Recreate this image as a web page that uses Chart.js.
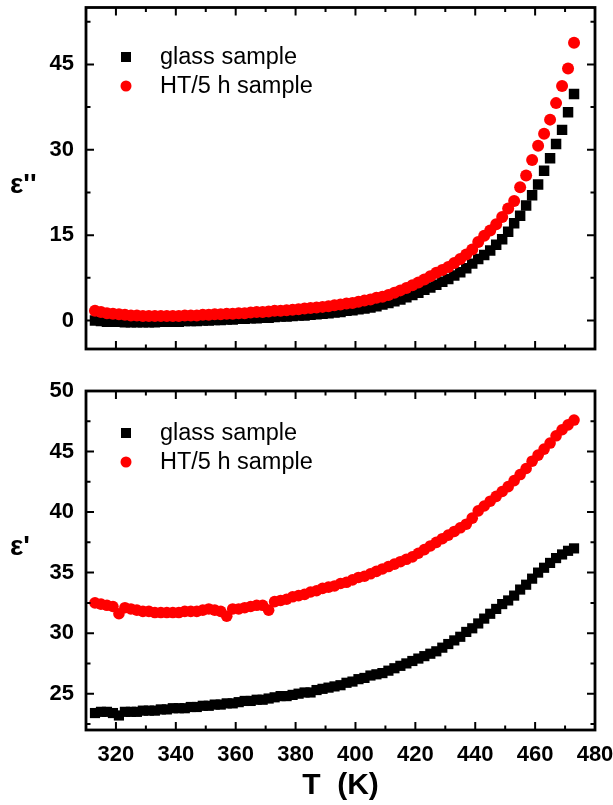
<!DOCTYPE html>
<html>
<head>
<meta charset="utf-8">
<script src="https://cdn.jsdelivr.net/npm/chart.js@4.4.1/dist/chart.umd.min.js"></script>
<style>
  html, body { margin: 0; padding: 0; background: #fff; }
  #wrap { position: relative; width: 613px; height: 805px; }
  .pane { position: absolute; left: 0; width: 613px; }
  #lossPane { top: 0; height: 360px; }
  #permPane { top: 360px; height: 445px; }
</style>
</head>
<body>
<div id="wrap">
  <div class="pane" id="lossPane"><canvas id="lossChart" width="613" height="360"></canvas></div>
  <div class="pane" id="permPane"><canvas id="permChart" width="613" height="445"></canvas></div>
</div>
<script>
// temperature points (K)
var tempK = [313, 315, 317, 319, 321, 323, 325, 327, 329, 331, 333, 335, 337, 339, 341, 343,
  345, 347, 349, 351, 353, 355, 357, 359, 361, 363, 365, 367, 369, 371, 373, 375,
  377, 379, 381, 383, 385, 387, 389, 391, 393, 395, 397, 399, 401, 403, 405, 407,
  409, 411, 413, 415, 417, 419, 421, 423, 425, 427, 429, 431, 433, 435, 437, 439,
  441, 443, 445, 447, 449, 451, 453, 455, 457, 459, 461, 463, 465, 467, 469, 471, 473];

// dielectric loss eps''
var lossGlass = [0.0, -0.1, -0.2, -0.2, -0.2, -0.3, -0.3, -0.3, -0.3, -0.3, -0.3, -0.2, -0.2, -0.2, -0.2, -0.1,
  -0.1, -0.1, 0.0, 0.0, 0.1, 0.1, 0.2, 0.2, 0.3, 0.3, 0.4, 0.4, 0.5, 0.5, 0.6, 0.7,
  0.7, 0.8, 0.9, 0.9, 1.0, 1.1, 1.2, 1.3, 1.4, 1.5, 1.7, 1.8, 2.0, 2.1, 2.3, 2.5,
  2.8, 3.1, 3.4, 3.7, 4.1, 4.5, 4.9, 5.4, 5.8, 6.3, 6.8, 7.3, 7.9, 8.5, 9.2, 10.0,
  10.8, 11.5, 12.3, 13.3, 14.3, 15.6, 17.1, 18.4, 20.2, 22.0, 23.9, 26.3, 28.5, 31.0, 33.5, 36.6, 39.8];
var lossHT = [1.7, 1.5, 1.3, 1.2, 1.1, 1.0, 0.9, 0.9, 0.8, 0.8, 0.8, 0.8, 0.8, 0.8, 0.8, 0.9,
  0.9, 0.9, 1.0, 1.0, 1.1, 1.1, 1.2, 1.2, 1.3, 1.3, 1.4, 1.5, 1.5, 1.6, 1.7, 1.7,
  1.8, 1.9, 2.0, 2.1, 2.2, 2.3, 2.4, 2.5, 2.7, 2.8, 3.0, 3.1, 3.3, 3.5, 3.7, 4.0,
  4.2, 4.5, 4.9, 5.3, 5.7, 6.2, 6.7, 7.2, 7.8, 8.4, 8.9, 9.4, 10.1, 10.8, 11.6, 12.5,
  13.8, 14.9, 15.8, 16.9, 18.2, 19.7, 21.0, 23.4, 25.5, 28.2, 30.7, 32.8, 35.3, 38.2, 41.2, 44.3, 48.8];

// dielectric constant eps'
var permGlass = [23.4, 23.5, 23.5, 23.4, 23.2, 23.5, 23.5, 23.5, 23.6, 23.6, 23.6, 23.7, 23.7, 23.8, 23.8, 23.8,
  23.9, 23.9, 24.0, 24.0, 24.1, 24.1, 24.2, 24.2, 24.3, 24.4, 24.4, 24.5, 24.5, 24.6, 24.7, 24.8,
  24.8, 24.9, 25.0, 25.1, 25.1, 25.3, 25.4, 25.5, 25.6, 25.7, 25.9, 26.0, 26.2, 26.3, 26.5, 26.6,
  26.7, 26.9, 27.1, 27.3, 27.5, 27.7, 27.9, 28.1, 28.3, 28.5, 28.8, 29.1, 29.4, 29.7, 30.1, 30.4,
  30.8, 31.2, 31.6, 32.0, 32.4, 32.7, 33.1, 33.6, 34.0, 34.5, 35.0, 35.4, 35.8, 36.2, 36.5, 36.8, 37.0];
var permHT = [32.5, 32.4, 32.3, 32.2, 31.6, 32.1, 32.0, 31.9, 31.8, 31.8, 31.7, 31.7, 31.7, 31.7, 31.7, 31.8,
  31.8, 31.8, 31.9, 32.0, 31.9, 31.8, 31.4, 32.0, 32.0, 32.1, 32.2, 32.3, 32.3, 31.9, 32.6, 32.7,
  32.8, 33.0, 33.1, 33.2, 33.4, 33.5, 33.7, 33.8, 33.9, 34.1, 34.2, 34.4, 34.6, 34.7, 34.9, 35.1,
  35.3, 35.5, 35.7, 35.9, 36.1, 36.3, 36.6, 36.9, 37.2, 37.5, 37.8, 38.1, 38.4, 38.7, 39.0, 39.5,
  40.1, 40.5, 40.9, 41.3, 41.7, 42.1, 42.6, 43.1, 43.6, 44.2, 44.7, 45.2, 45.7, 46.3, 46.8, 47.2, 47.6];

// axis ticks
var xMajor = [320, 340, 360, 380, 400, 420, 440, 460, 480];
var xMinor = [310, 330, 350, 370, 390, 410, 430, 450, 470];
var lossMajor = [0, 15, 30, 45];
var lossMinor = [7.5, 22.5, 37.5, 52.5];
var permMajor = [25, 30, 35, 40, 45, 50];
var permMinor = [22.5, 27.5, 32.5, 37.5, 42.5, 47.5];

var seriesNames = ['glass sample', 'HT/5 h sample'];

var tickFont = { family: '"Liberation Sans", Arial, sans-serif', size: 22, weight: 'bold' };

function points(ys) {
  return tempK.map(function (t, i) { return { x: t, y: ys[i] }; });
}

// frame with inward ticks on all sides, in-plot legend and the epsilon label
var framePlugin = {
  id: 'frame',
  afterDatasetsDraw: function (chart, args, opts) {
    var ctx = chart.ctx, a = chart.chartArea;
    var xs = chart.scales.x, ys = chart.scales.y;
    ctx.save();
    ctx.strokeStyle = '#000';
    ctx.lineWidth = 2;
    function xTick(v, len) {
      var px = xs.getPixelForValue(v);
      if (px < a.left + 1 || px > a.right - 1) return;
      ctx.beginPath();
      ctx.moveTo(px, a.bottom); ctx.lineTo(px, a.bottom - len);
      ctx.moveTo(px, a.top); ctx.lineTo(px, a.top + len);
      ctx.stroke();
    }
    function yTick(v, len) {
      var py = ys.getPixelForValue(v);
      if (py < a.top + 1 || py > a.bottom - 1) return;
      ctx.beginPath();
      ctx.moveTo(a.left, py); ctx.lineTo(a.left + len, py);
      ctx.moveTo(a.right, py); ctx.lineTo(a.right - len, py);
      ctx.stroke();
    }
    xMajor.forEach(function (v) { xTick(v, 8); });
    xMinor.forEach(function (v) { xTick(v, 4.5); });
    opts.yMajor.forEach(function (v) { yTick(v, 8); });
    opts.yMinor.forEach(function (v) { yTick(v, 4.5); });
    ctx.lineWidth = 2.8;
    ctx.strokeRect(a.left, a.top, a.right - a.left, a.bottom - a.top);

    // legend
    ctx.font = '23.5px "Liberation Sans", Arial, sans-serif';
    ctx.textBaseline = 'middle';
    ctx.textAlign = 'left';
    chart.data.datasets.forEach(function (ds, i) {
      var ly = opts.legendY[i];
      ctx.fillStyle = ds.backgroundColor;
      if (ds.pointStyle === 'rect') {
        ctx.fillRect(126 - 5, ly - 5, 10, 10);
      } else {
        ctx.beginPath();
        ctx.arc(126, ly, 5.5, 0, Math.PI * 2);
        ctx.fill();
      }
      ctx.fillStyle = '#000';
      ctx.fillText(ds.label, 160, ly + 1);
    });

    ctx.font = 'bold 28px "Liberation Sans", Arial, sans-serif';
    ctx.fillText(opts.yTitle, 10, opts.yTitleY);
    ctx.restore();
  }
};

function makeChart(id, glass, ht, cfg) {
  return new Chart(document.getElementById(id), {
    type: 'scatter',
    data: {
      datasets: [{
        label: seriesNames[0],
        data: points(glass),
        pointStyle: 'rect',
        pointRadius: cfg.rectR,
        backgroundColor: '#000000',
        borderWidth: 0,
        order: 1
      }, {
        label: seriesNames[1],
        data: points(ht),
        pointStyle: 'circle',
        pointRadius: cfg.circR,
        backgroundColor: '#ff0000',
        borderWidth: 0,
        order: 0
      }]
    },
    options: {
      responsive: false,
      animation: false,
      events: [],
      layout: { padding: cfg.padding },
      plugins: {
        legend: { display: false },
        tooltip: { enabled: false },
        frame: { yMajor: cfg.yMajor, yMinor: cfg.yMinor, legendY: cfg.legendY, yTitle: cfg.yTitle, yTitleY: cfg.yTitleY }
      },
      scales: {
        x: {
          type: 'linear',
          min: 310,
          max: 480,
          display: cfg.showX,
          grid: { display: false, drawTicks: false },
          border: { display: false },
          ticks: { font: tickFont, color: '#000', padding: 12, maxRotation: 0, autoSkip: false },
          title: {
            display: true,
            text: 'T  (K)',
            color: '#000',
            font: { family: '"Liberation Sans", Arial, sans-serif', size: 30, weight: 'bold' },
            padding: { top: 0, bottom: 1 }
          },
          afterBuildTicks: function (s) { s.ticks = xMajor.map(function (v) { return { value: v }; }); },
          afterFit: function (s) {
            s.paddingLeft = 0; s.paddingRight = 0;
            s.height = cfg.showX ? 75 : 0;
          }
        },
        y: {
          min: cfg.yMin,
          max: cfg.yMax,
          grid: { display: false, drawTicks: false },
          border: { display: false },
          ticks: { font: tickFont, color: '#000', padding: 12 },
          afterBuildTicks: function (s) { s.ticks = cfg.yMajor.map(function (v) { return { value: v }; }); },
          afterFit: function (s) { s.width = 86; s.paddingTop = 0; s.paddingBottom = 0; }
        }
      }
    },
    plugins: [framePlugin]
  });
}

makeChart('lossChart', lossGlass, lossHT, {
  showX: false,
  padding: { top: 7.5, right: 18, bottom: 11, left: 0 },
  yMin: -5, yMax: 55,
  yMajor: lossMajor, yMinor: lossMinor,
  rectR: 7.4, circR: 6,
  legendY: [57, 86],
  yTitle: "\u03b5''", yTitleY: 185
});

makeChart('permChart', permGlass, permHT, {
  showX: true,
  padding: { top: 31, right: 18, bottom: 0, left: 0 },
  yMin: 22, yMax: 50,
  yMajor: permMajor, yMinor: permMinor,
  rectR: 7.2, circR: 5.8,
  legendY: [73, 102],
  yTitle: "\u03b5'", yTitleY: 187
});
</script>
</body>
</html>
